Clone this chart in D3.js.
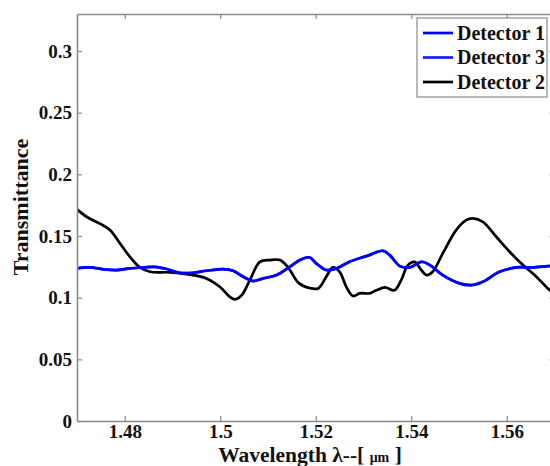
<!DOCTYPE html>
<html>
<head>
<meta charset="utf-8">
<script src="https://cdn.jsdelivr.net/npm/d3@7"></script>
<style>
  html, body { margin: 0; padding: 0; background: #fff; }
  svg { display: block; }
  text { font-family: 'Liberation Serif', 'Times New Roman', serif; font-weight: bold; }
</style>
</head>
<body>
<svg id="chart" width="550" height="466"></svg>
<script>
// Wavelength (µm) sample positions and transmittance per detector
const wavelength1 = [1.47, 1.4727, 1.4755, 1.4783, 1.4811, 1.4839, 1.4863, 1.4888, 1.4915, 1.4943,
  1.4971, 1.5006, 1.5027, 1.5048, 1.5069, 1.509, 1.5118, 1.5146, 1.5167, 1.5187, 1.5201, 1.5222,
  1.5243, 1.5271, 1.5306, 1.5341, 1.5355, 1.5376, 1.5397, 1.5421, 1.5439, 1.5466, 1.5501, 1.5526,
  1.555, 1.5585, 1.562, 1.5655, 1.5686, 1.57];
const detector1 = [0.1237, 0.1245, 0.123, 0.1224, 0.1237, 0.1245, 0.125, 0.1232, 0.1202, 0.1202,
  0.1218, 0.1232, 0.1218, 0.117, 0.1135, 0.1156, 0.1183, 0.1252, 0.1305, 0.1327, 0.1278, 0.1224,
  0.1237, 0.1291, 0.1337, 0.138, 0.1345, 0.1256, 0.1245, 0.1291, 0.1264, 0.1183, 0.1116, 0.1102,
  0.1129, 0.121, 0.1245, 0.1245, 0.1256, 0.1258];
// Detector 3 coincides with Detector 1 over this band
const detector3 = detector1.slice();

const wavelength2 = [1.47, 1.472, 1.4748, 1.4769, 1.479, 1.4811, 1.4832, 1.4853, 1.4895, 1.4943,
  1.4971, 1.4999, 1.502, 1.5031, 1.5045, 1.5062, 1.5083, 1.5104, 1.5125, 1.5142, 1.5164, 1.5187,
  1.5205, 1.5222, 1.5236, 1.525, 1.5264, 1.5278, 1.5292, 1.5313, 1.5327, 1.5345, 1.5365, 1.5379,
  1.5393, 1.5407, 1.5421, 1.5432, 1.5445, 1.5466, 1.5494, 1.5515, 1.5529, 1.555, 1.5578, 1.5606,
  1.5634, 1.5662, 1.5686, 1.57];
const detector2 = [0.1716, 0.1656, 0.160, 0.1548, 0.144, 0.133, 0.1245, 0.121, 0.1205, 0.1183,
  0.1156, 0.1088, 0.1007, 0.0986, 0.102, 0.1143, 0.129, 0.1305, 0.1305, 0.1245, 0.112, 0.1078,
  0.1075, 0.117, 0.1245, 0.121, 0.1088, 0.1013, 0.1035, 0.1035, 0.106, 0.1083, 0.106, 0.1143,
  0.1264, 0.129, 0.1224, 0.1183, 0.121, 0.1359, 0.1548, 0.1629, 0.1643, 0.1615, 0.1494, 0.1372,
  0.1264, 0.117, 0.1075, 0.103];

const xTicks = [1.48, 1.5, 1.52, 1.54, 1.56];
const yTicks = [0, 0.05, 0.1, 0.15, 0.2, 0.25, 0.3];

const series = [
  { name: "Detector 1", x: wavelength1, y: detector1, color: "#0000ff" },
  { name: "Detector 3", x: wavelength1, y: detector3, color: "#1a1aff" },
  { name: "Detector 2", x: wavelength2, y: detector2, color: "#000000" }
];
// Drawing order: black trace under the blue ones
const drawOrder = [series[2], series[1], series[0]];

const svg = d3.select("#chart");
const plot = { left: 77, right: 554.5, top: 14, bottom: 421 };

const x = d3.scaleLinear().domain([1.47, 1.57]).range([plot.left, plot.right]);
const y = d3.scaleLinear().domain([0, 0.33]).range([plot.bottom, plot.top]);

const axisColor = "#8a8a8a";
const serif = "'Liberation Serif', 'Times New Roman', serif";

// Clip traces to the plotting box
svg.append("defs").append("clipPath").attr("id", "plotClip")
  .append("rect")
  .attr("x", plot.left).attr("y", plot.top)
  .attr("width", plot.right - plot.left).attr("height", plot.bottom - plot.top);

const line = d3.line().curve(d3.curveCatmullRom.alpha(0.5));

const traces = svg.append("g").attr("clip-path", "url(#plotClip)");
drawOrder.forEach(s => {
  traces.append("path")
    .datum(s.x.map((v, i) => [x(v), y(s.y[i])]))
    .attr("d", line)
    .attr("fill", "none")
    .attr("stroke", s.color)
    .attr("stroke-width", 2.7)
    .attr("stroke-linejoin", "round");
});

// Axes: box with inward ticks on all four sides
const styleAxis = g => {
  g.attr("font-family", serif);
  g.select(".domain").attr("stroke", axisColor).attr("stroke-width", 1.6);
  g.selectAll(".tick line").attr("stroke", axisColor).attr("stroke-width", 1.2);
  g.selectAll("text").attr("fill", "#111").attr("font-size", 19)
    .attr("font-family", serif).attr("font-weight", "bold");
};

svg.append("g")
  .attr("transform", `translate(0,${plot.bottom})`)
  .call(d3.axisBottom(x).tickValues(xTicks).tickFormat(d => String(d))
    .tickSizeInner(-5).tickSizeOuter(0).tickPadding(3))
  .call(styleAxis);

svg.append("g")
  .attr("transform", `translate(0,${plot.top})`)
  .call(d3.axisTop(x).tickValues(xTicks).tickFormat("")
    .tickSizeInner(-5).tickSizeOuter(0))
  .call(styleAxis);

svg.append("g")
  .attr("transform", `translate(${plot.left},0)`)
  .call(d3.axisLeft(y).tickValues(yTicks).tickFormat(d => String(d))
    .tickSizeInner(-5).tickSizeOuter(0).tickPadding(5))
  .call(styleAxis);

svg.append("g")
  .attr("transform", `translate(${plot.right},0)`)
  .call(d3.axisRight(y).tickValues(yTicks).tickFormat("")
    .tickSizeInner(-5).tickSizeOuter(0))
  .call(styleAxis);

// Axis titles
svg.append("text")
  .attr("transform", `translate(28,207) rotate(-90)`)
  .attr("text-anchor", "middle")
  .attr("font-size", 22)
  .attr("fill", "#111")
  .text("Transmittance");

const xTitle = svg.append("text")
  .attr("x", 310).attr("y", 461.5)
  .attr("text-anchor", "middle")
  .attr("font-size", 21.5)
  .attr("fill", "#111");
xTitle.append("tspan").text("Wavelength λ--[ ");
xTitle.append("tspan").attr("font-size", 14).text("μm");
xTitle.append("tspan").text(" ]");

// Legend
const legend = svg.append("g");
legend.append("rect")
  .attr("x", 417).attr("y", 18)
  .attr("width", 130).attr("height", 79)
  .attr("fill", "#fff")
  .attr("stroke", axisColor).attr("stroke-width", 1.2);

series.forEach((s, i) => {
  const cy = 33 + i * 24.5;
  legend.append("line")
    .attr("x1", 423).attr("x2", 453)
    .attr("y1", cy).attr("y2", cy)
    .attr("stroke", s.color).attr("stroke-width", 2.7);
  legend.append("text")
    .attr("x", 457).attr("y", cy + 6.5)
    .attr("font-size", 20)
    .attr("fill", "#111")
    .text(s.name);
});
</script>
</body>
</html>
